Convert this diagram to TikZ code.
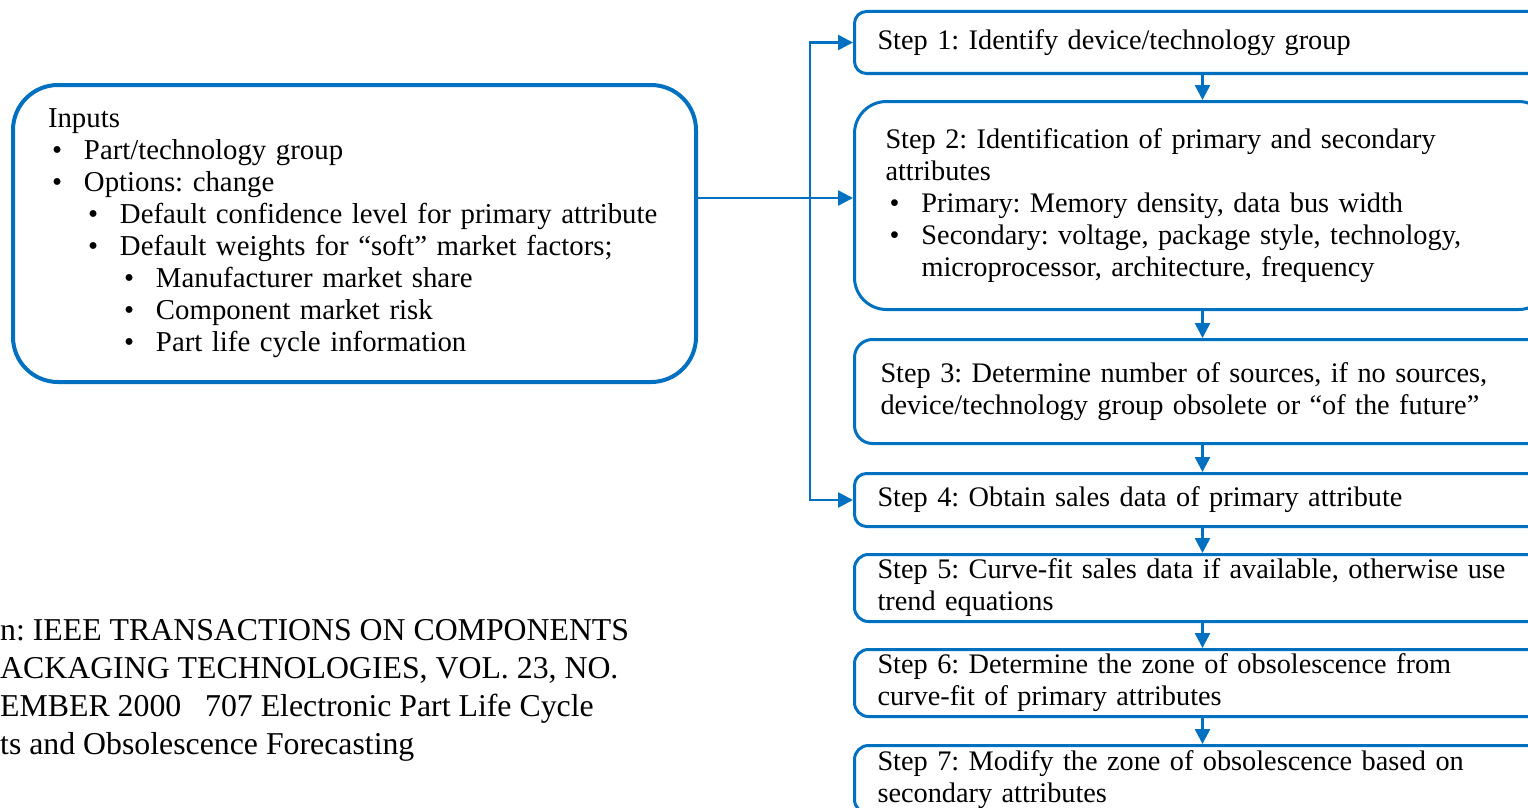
\documentclass[tikz,border=0pt]{standalone}
\usepackage{fontspec}
\setmainfont{Liberation Serif}
\usetikzlibrary{arrows.meta,positioning}
\definecolor{boxblue}{RGB}{0,112,192}
\tikzset{stp/.style={draw=boxblue, line width=3pt, anchor=north west, text width=650pt, align=left, inner xsep=23pt, inner ysep=0pt, font=\fontsize{28.3}{32}\selectfont}}
\tikzset{inp/.style={draw=boxblue, line width=4pt, anchor=north west, rounded corners=45pt, text width=613pt, minimum height=297pt, align=left, inner xsep=35pt, inner ysep=0pt, font=\fontsize{28.8}{32}\selectfont}}
\tikzset{flow/.style={draw=boxblue, line width=2.6pt, -{Triangle[length=15pt,width=15pt]}}}
\tikzset{src/.style={anchor=west, align=left, inner sep=0pt, font=\fontsize{31.8}{38}\selectfont}}
\newcommand\bul[2]{\hspace*{#1}\makebox[32pt][l]{\textbullet}#2}
\frenchspacing

\begin{document}
\begin{tikzpicture}[x=1pt,y=-1pt]
  \useasboundingbox (0,0) rectangle (1528,808);
  \clip (0,0) rectangle (1528,808);
  % inputs
  \node [inp] (inputs) at (11,83) {Inputs\\
    \bul{4pt}{Part/technology group}\\
    \bul{4pt}{Options: change}\\
    \bul{40pt}{Default confidence level for primary attribute}\\
    \bul{40pt}{Default weights for “soft” market factors;}\\
    \bul{76pt}{Manufacturer market share}\\
    \bul{76pt}{Component market risk}\\
    \bul{76pt}{Part life cycle information}};
  % steps
  \node [stp, rounded corners=12pt, minimum height=62pt] (s1) at (853,10)
    {Step 1: Identify device/technology group};
  \node [stp, rounded corners=32pt, minimum height=208pt, inner xsep=31pt, text width=634pt] (s2) at (853,100)
    {Step 2: Identification of primary and secondary\\ attributes\\
    \bul{4pt}{Primary: Memory density, data bus width}\\
    \bul{4pt}{Secondary: voltage, package style, technology,}\\
    \hspace*{36pt}microprocessor, architecture, frequency};
  \node [stp, rounded corners=18pt, minimum height=104pt, inner xsep=26pt, text width=644pt] (s3) at (853,338)
    {Step 3: Determine number of sources, if no sources,\\ device/technology group obsolete or “of the future”};
  \node [stp, rounded corners=12pt, minimum height=53pt] (s4) at (853,472)
    {Step 4: Obtain sales data of primary attribute};
  \node [stp, rounded corners=14pt, minimum height=67pt] (s5) at (853,553)
    {Step 5: Curve-fit sales data if available, otherwise use\\ trend equations};
  \node [stp, rounded corners=14pt, minimum height=67pt] (s6) at (853,648)
    {Step 6: Determine the zone of obsolescence from\\ curve-fit of primary attributes};
  \node [stp, rounded corners=14pt, minimum height=68pt] (s7) at (853,744)
    {Step 7: Modify the zone of obsolescence based on\\ secondary attributes};
  \foreach \a/\b in {s1/s2,s2/s3,s3/s4,s4/s5,s5/s6,s6/s7}
    \draw [flow] (\a) -- (\b);
  % branch
  \coordinate (split) at (810,198);
  \draw [flow] (inputs.east |- split) -- (split -| s2.west);
  \draw [flow] (split) |- (s1);
  \draw [flow] (split) |- (s4);
  % source
  \node [src] (cite) at (0,690.5) {n: IEEE TRANSACTIONS ON COMPONENTS\\
    ACKAGING TECHNOLOGIES, VOL. 23, NO.\\
    EMBER 2000\ \ \ 707 Electronic Part Life Cycle\\
    ts and Obsolescence Forecasting};
\end{tikzpicture}
\end{document}
